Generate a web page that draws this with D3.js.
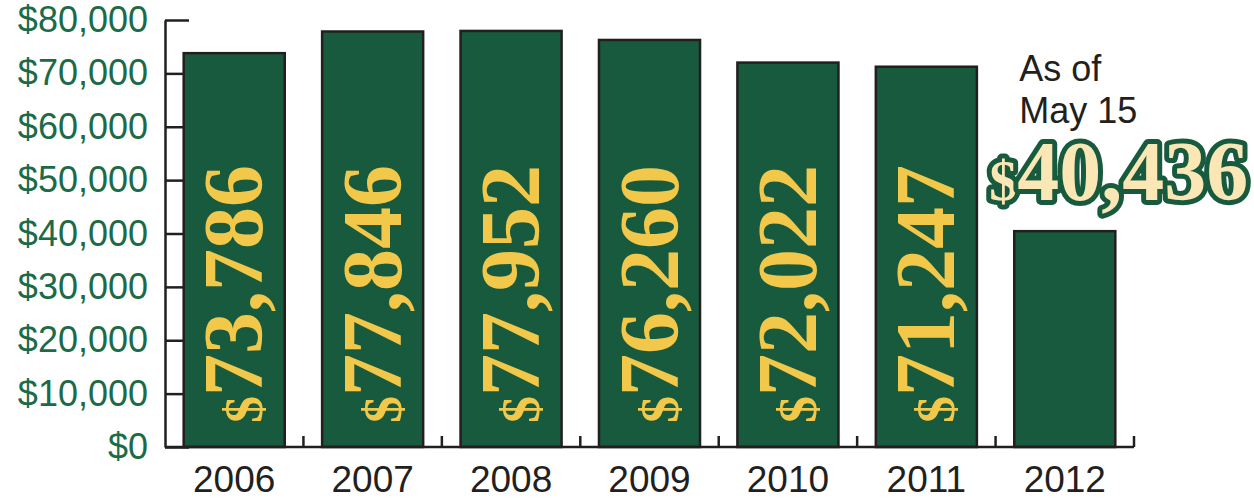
<!DOCTYPE html>
<html>
<head>
  <title>Annual totals</title>
  <script src="https://d3js.org/d3.v7.min.js"></script>
  <style>
    body { margin: 0; background: #fff; }
    svg { display: block; }
  </style>
</head>
<body>
  <svg id="chart" width="1254" height="500"></svg>

  <script>
    // data
    const years = ["2006", "2007", "2008", "2009", "2010", "2011", "2012"];
    const amounts = [73786, 77846, 77952, 76260, 72022, 71247, 40436];
    const yTicks = [0, 10000, 20000, 30000, 40000, 50000, 60000, 70000, 80000];
    const noteLines = ["As of", "May 15"];

    const svg = d3.select("svg#chart");
    const green = "#185a3e";
    const ink = "#231f20";

    const plotLeft = 165, plotRight = 1134, plotTop = 20, plotBottom = 447;

    const xScale = d3.scaleBand()
      .domain(years)
      .range([plotLeft, plotRight])
      .paddingInner(0.27)
      .paddingOuter(0.135);

    const yScale = d3.scaleLinear()
      .domain([0, 80000])
      .range([plotBottom, plotTop]);

    // left axis, ticks point into the plot
    const leftAxis = d3.axisLeft(yScale)
      .tickValues(yTicks)
      .tickSizeInner(-24)
      .tickSizeOuter(0)
      .tickPadding(17)
      .tickFormat(d => "$" + d3.format(",")(d));

    const yAxisG = svg.append("g")
      .attr("transform", `translate(${plotLeft},0)`)
      .call(leftAxis);
    yAxisG.select(".domain").attr("stroke", ink).attr("stroke-width", 2.5);
    yAxisG.selectAll(".tick line").attr("stroke", ink).attr("stroke-width", 2.5);
    yAxisG.selectAll(".tick text")
      .attr("fill", "#1b6a48")
      .style("font-family", "Arial, 'Liberation Sans', sans-serif")
      .style("font-size", "36px");

    // bars
    svg.append("g")
      .selectAll("rect")
      .data(years)
      .join("rect")
      .attr("x", d => xScale(d))
      .attr("y", (d, i) => yScale(amounts[i]))
      .attr("width", xScale.bandwidth())
      .attr("height", (d, i) => plotBottom - yScale(amounts[i]))
      .attr("fill", green)
      .attr("stroke", ink)
      .attr("stroke-width", 2.5);

    // bottom axis: baseline with small upward ticks between the bars
    const step = xScale.step();
    const gapTicks = years.map(d => xScale(d) + xScale.bandwidth() + (step - xScale.bandwidth()) / 2);
    const xAxisG = svg.append("g");
    xAxisG.append("line")
      .attr("x1", plotLeft).attr("x2", plotRight)
      .attr("y1", plotBottom).attr("y2", plotBottom)
      .attr("stroke", ink).attr("stroke-width", 2.5);
    xAxisG.selectAll("line.gap")
      .data(gapTicks)
      .join("line")
      .attr("class", "gap")
      .attr("x1", d => d).attr("x2", d => d)
      .attr("y1", plotBottom).attr("y2", plotBottom - 11)
      .attr("stroke", ink).attr("stroke-width", 2.5);
    xAxisG.selectAll("text")
      .data(years)
      .join("text")
      .attr("x", d => xScale(d) + xScale.bandwidth() / 2)
      .attr("y", 492)
      .attr("text-anchor", "middle")
      .attr("fill", ink)
      .style("font-family", "Arial, 'Liberation Sans', sans-serif")
      .style("font-size", "37px")
      .text(d => d);

    // vertical value labels inside the full-year bars
    const labelG = svg.append("g");
    years.slice(0, 6).forEach((yr, i) => {
      const cx = xScale(yr) + xScale.bandwidth() / 2;
      const t = labelG.append("text")
        .attr("transform", `translate(${cx + 28},423) rotate(-90)`)
        .attr("fill", "#f2c84b")
        .attr("stroke", green)
        .attr("stroke-width", 6)
        .attr("paint-order", "stroke")
        .style("font-family", "'Liberation Serif', 'Times New Roman', serif")
        .style("font-weight", "bold");
      t.append("tspan").style("font-size", "54px").text("$");
      t.append("tspan").style("font-size", "84px").text(d3.format(",")(amounts[i]));
    });

    // partial-year note
    const last = years.length - 1;
    const noteX = xScale(years[last]) + 5;
    svg.append("g")
      .selectAll("text")
      .data(noteLines)
      .join("text")
      .attr("x", noteX)
      .attr("y", (d, i) => 81 + i * 42)
      .attr("fill", ink)
      .style("font-family", "Arial, 'Liberation Sans', sans-serif")
      .style("font-size", "36px")
      .text(d => d);

    const big = svg.append("text")
      .attr("x", noteX - 30)
      .attr("y", 200)
      .attr("fill", "#fbe7b6")
      .attr("stroke", green)
      .attr("stroke-width", 10)
      .attr("stroke-linejoin", "round")
      .attr("paint-order", "stroke")
      .style("font-family", "'Liberation Serif', 'Times New Roman', serif")
      .style("font-weight", "bold");
    big.append("tspan").style("font-size", "56px").text("$");
    big.append("tspan").style("font-size", "84px").text(d3.format(",")(amounts[last]));
  </script>
</body>
</html>
